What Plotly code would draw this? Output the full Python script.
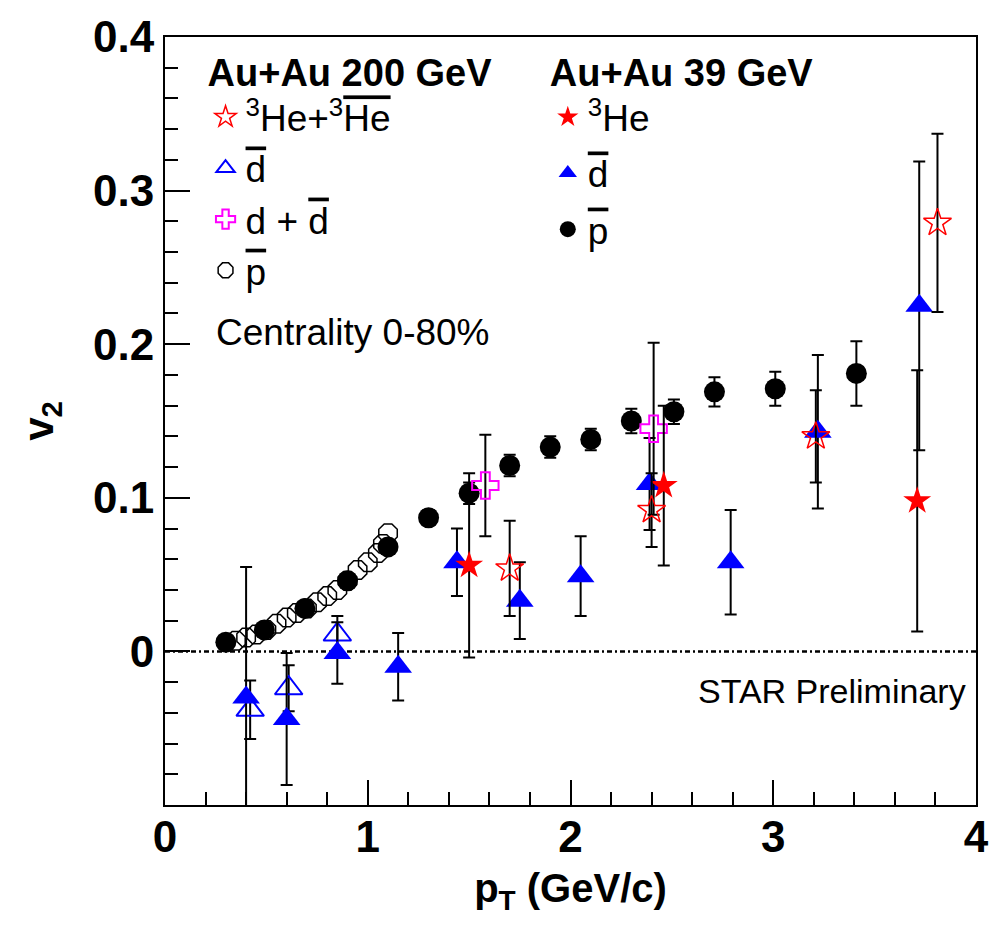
import plotly.graph_objects as go

# ---------------- data ----------------
# Au+Au 200 GeV
he3_200_pt = [1.70, 2.40, 3.21, 3.81]
he3_200_v2 = [0.054, 0.092, 0.140, 0.279]
he3_200_err = [0.031, 0.024, 0.030, 0.058]

dbar_200_pt = [0.42, 0.61, 0.85]
dbar_200_v2 = [-0.038, -0.024, 0.011]
dbar_200_err = [0.019, 0.015, 0.012]

dd_200_pt = [1.58, 2.41]
dd_200_v2 = [0.108, 0.145]
dd_200_err = [0.033, 0.056]

pbar_200_pt = [0.35, 0.40, 0.45, 0.50, 0.55, 0.60, 0.65, 0.70, 0.75, 0.80,
               0.85, 0.90, 0.95, 1.00, 1.05, 1.075, 1.10]
pbar_200_v2 = [0.007, 0.009, 0.011, 0.014, 0.018, 0.022, 0.025, 0.028, 0.032, 0.036,
               0.040, 0.046, 0.053, 0.058, 0.064, 0.070, 0.077]

# Au+Au 39 GeV
he3_39_pt = [1.50, 2.46, 3.71]
he3_39_v2 = [0.056, 0.108, 0.098]
he3_39_err = [0.060, 0.052, 0.085]

dbar_39_pt = [0.40, 0.60, 0.85, 1.15, 1.44, 1.75, 2.05, 2.39, 2.79, 3.22, 3.72]
dbar_39_v2 = [-0.030, -0.044, -0.001, -0.010, 0.058, 0.033, 0.049, 0.109, 0.058, 0.143, 0.225]
dbar_39_err = [0.085, 0.043, 0.020, 0.022, 0.022, 0.025, 0.026, 0.030, 0.034, 0.050, 0.094]

pbar_39_pt = [0.30, 0.49, 0.69, 0.90, 1.10, 1.30, 1.50, 1.70, 1.90, 2.10, 2.30, 2.51, 2.71, 3.01, 3.41]
pbar_39_v2 = [0.006, 0.014, 0.028, 0.046, 0.068, 0.087, 0.103, 0.121, 0.133, 0.138, 0.150, 0.156,
              0.169, 0.171, 0.181]
pbar_39_err = [0.003, 0.003, 0.003, 0.004, 0.004, 0.005, 0.007, 0.007, 0.007, 0.007, 0.008, 0.008,
               0.0095, 0.011, 0.021]

zero_level = 0.0
x_range = [0, 4]
y_range = [-0.1, 0.4]
y_ticks = [0, 0.1, 0.2, 0.3, 0.4]
y_ticktext = ["0", "0.1", "0.2", "0.3", "0.4"]
x_ticks = [0, 1, 2, 3, 4]

FONT = "Liberation Sans"
RED = "#ff0000"
BLUE = "#0000ff"
MAG = "#ff00ff"
OV = "<span style='text-decoration:overline'>{}</span>"


def err(arr):
    return dict(type="data", array=arr, color="black", thickness=2, width=6)


fig = go.Figure()

fig.add_trace(go.Scatter(
    x=pbar_200_pt, y=pbar_200_v2, mode="markers", name=OV.format("p"),
    marker=dict(symbol="octagon-open", size=20, color="black", line=dict(width=1.5, color="black")),
    legend="legend", legendgroup="a4", legendrank=4))

fig.add_trace(go.Scatter(
    x=pbar_39_pt, y=pbar_39_v2, error_y=err(pbar_39_err), mode="markers",
    name=OV.format("p"),
    marker=dict(symbol="circle", size=21, color="black"),
    legend="legend2", legendgroup="b3", legendrank=3))

fig.add_trace(go.Scatter(
    x=dbar_200_pt, y=dbar_200_v2, error_y=err(dbar_200_err), mode="markers",
    name=OV.format("d"),
    marker=dict(symbol="triangle-up-open", size=24, color=BLUE, line=dict(width=2, color=BLUE)),
    legend="legend", legendgroup="a2", legendrank=2))

fig.add_trace(go.Scatter(
    x=dbar_39_pt, y=dbar_39_v2, error_y=err(dbar_39_err), mode="markers",
    name=OV.format("d"),
    marker=dict(symbol="triangle-up", size=24, color=BLUE),
    legend="legend2", legendgroup="b2", legendrank=2))

fig.add_trace(go.Scatter(
    x=dd_200_pt, y=dd_200_v2, error_y=err(dd_200_err), mode="markers",
    name="d + " + OV.format("d"),
    marker=dict(symbol="cross-open", size=22, color=MAG, line=dict(width=2, color=MAG)),
    legend="legend", legendgroup="a3", legendrank=3))

fig.add_trace(go.Scatter(
    x=he3_39_pt, y=he3_39_v2, error_y=err(he3_39_err), mode="markers",
    name="<sup>3</sup>He",
    marker=dict(symbol="star", size=21, color=RED),
    legend="legend2", legendgroup="b1", legendrank=1))

fig.add_trace(go.Scatter(
    x=he3_200_pt, y=he3_200_v2, error_y=err(he3_200_err), mode="markers",
    name="<sup>3</sup>He+<sup>3</sup>" + OV.format("He"),
    marker=dict(symbol="star-open", size=21, color=RED, line=dict(width=1.5, color=RED)),
    legend="legend", legendgroup="a1", legendrank=1))

# zero reference line
fig.add_shape(type="line", xref="x", yref="y", x0=x_range[0], x1=x_range[1],
              y0=zero_level, y1=zero_level,
              line=dict(color="black", width=2.5, dash="5px,3px,2px,3px"), layer="below")

axis_common = dict(
    showline=True, linecolor="black", linewidth=2, mirror=True,
    ticks="inside", ticklen=25, tickwidth=2, tickcolor="black",
    showgrid=False, zeroline=False,
    tickfont=dict(family=FONT, size=44, color="black", weight="bold"),
)

fig.update_xaxes(
    range=x_range, tickvals=x_ticks, ticklabelstandoff=-8,
    minor=dict(ticks="inside", ticklen=13, tickwidth=2, tickcolor="black", dtick=0.2, tick0=0, showgrid=False),
    title=dict(text="p<sub>T</sub> (GeV/c)", font=dict(family=FONT, size=40, color="black", weight="bold"),
               standoff=14),
    **axis_common)

fig.update_yaxes(
    range=y_range, tickvals=y_ticks, ticktext=y_ticktext,
    minor=dict(ticks="inside", ticklen=13, tickwidth=2, tickcolor="black", dtick=0.02, tick0=0, showgrid=False),
    title=dict(text="v<sub>2</sub>", font=dict(family=FONT, size=42, color="black", weight="bold"),
               standoff=26),
    **axis_common)

legend_font = dict(family=FONT, size=37, color="black")
title_font = dict(family=FONT, size=38, color="black", weight="bold")

fig.update_layout(
    width=1001, height=930,
    margin=dict(l=165, r=13, t=27, b=125),
    plot_bgcolor="white", paper_bgcolor="white",
    font=dict(family=FONT, color="black"),
    legend=dict(x=0.05, y=1.0, xanchor="left", yanchor="top", bgcolor="rgba(0,0,0,0)",
                font=legend_font, title=dict(text="Au+Au 200 GeV", font=title_font),
                tracegroupgap=0, itemwidth=30),
    legend2=dict(x=0.472, y=1.0, xanchor="left", yanchor="top", bgcolor="rgba(0,0,0,0)",
                 font=legend_font, title=dict(text="Au+Au 39 GeV", font=title_font),
                 tracegroupgap=5, itemwidth=30),
    annotations=[
        dict(text="Centrality 0-80%", xref="paper", yref="paper", x=0.06, y=0.615,
             xanchor="left", yanchor="middle", showarrow=False, font=dict(family=FONT, size=37, color="black")),
        dict(text="STAR Preliminary", xref="paper", yref="paper", x=0.99, y=0.148,
             xanchor="right", yanchor="middle", showarrow=False, font=dict(family=FONT, size=34, color="black")),
    ],
    showlegend=True,
)

fig.write_html("out.html")
